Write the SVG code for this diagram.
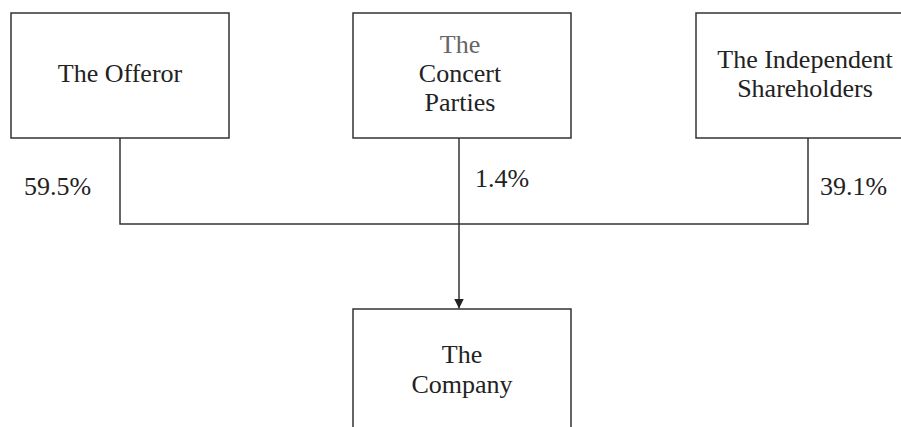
<svg xmlns="http://www.w3.org/2000/svg" width="901" height="427" viewBox="0 0 901 427">
<style>
.box{fill:#fff;stroke:#333;stroke-width:1.5}
.t{font-family:"Liberation Serif","Times New Roman",serif;font-size:26px;fill:#222}
.c{text-anchor:middle}
.ln{fill:none;stroke:#333;stroke-width:1.5}
</style>
<defs>
<marker id="arr" viewBox="0 0 10 10" refX="10" refY="5" markerWidth="10" markerHeight="10" markerUnits="userSpaceOnUse" orient="auto">
<path d="M0,0 L10,5 L0,10 Z" fill="#222"/>
</marker>
</defs>
<rect width="901" height="427" fill="#fff"/>
<g id="connectors">
<path class="ln" d="M120,138 V224 H808 V138"/>
<path class="ln" d="M459,138 V308.5" marker-end="url(#arr)"/>
</g>
<g id="offeror">
<rect class="box" x="11" y="13" width="218" height="125"/>
<text class="t c" x="120" y="82">The Offeror</text>
</g>
<g id="concert">
<rect class="box" x="353" y="13" width="218" height="125"/>
<text class="t c" x="460" y="53" style="fill:#666">The</text>
<text class="t c" x="460" y="82">Concert</text>
<text class="t c" x="460" y="111">Parties</text>
</g>
<g id="independent">
<rect class="box" x="696" y="13" width="220" height="125"/>
<text class="t c" x="805" y="68">The Independent</text>
<text class="t c" x="805" y="97">Shareholders</text>
</g>
<g id="company">
<rect class="box" x="353" y="309" width="218" height="130"/>
<text class="t c" x="462" y="363">The</text>
<text class="t c" x="462" y="393">Company</text>
</g>
<g id="labels">
<text class="t" x="24" y="195">59.5%</text>
<text class="t" x="475" y="187">1.4%</text>
<text class="t" x="820" y="195">39.1%</text>
</g>
</svg>
